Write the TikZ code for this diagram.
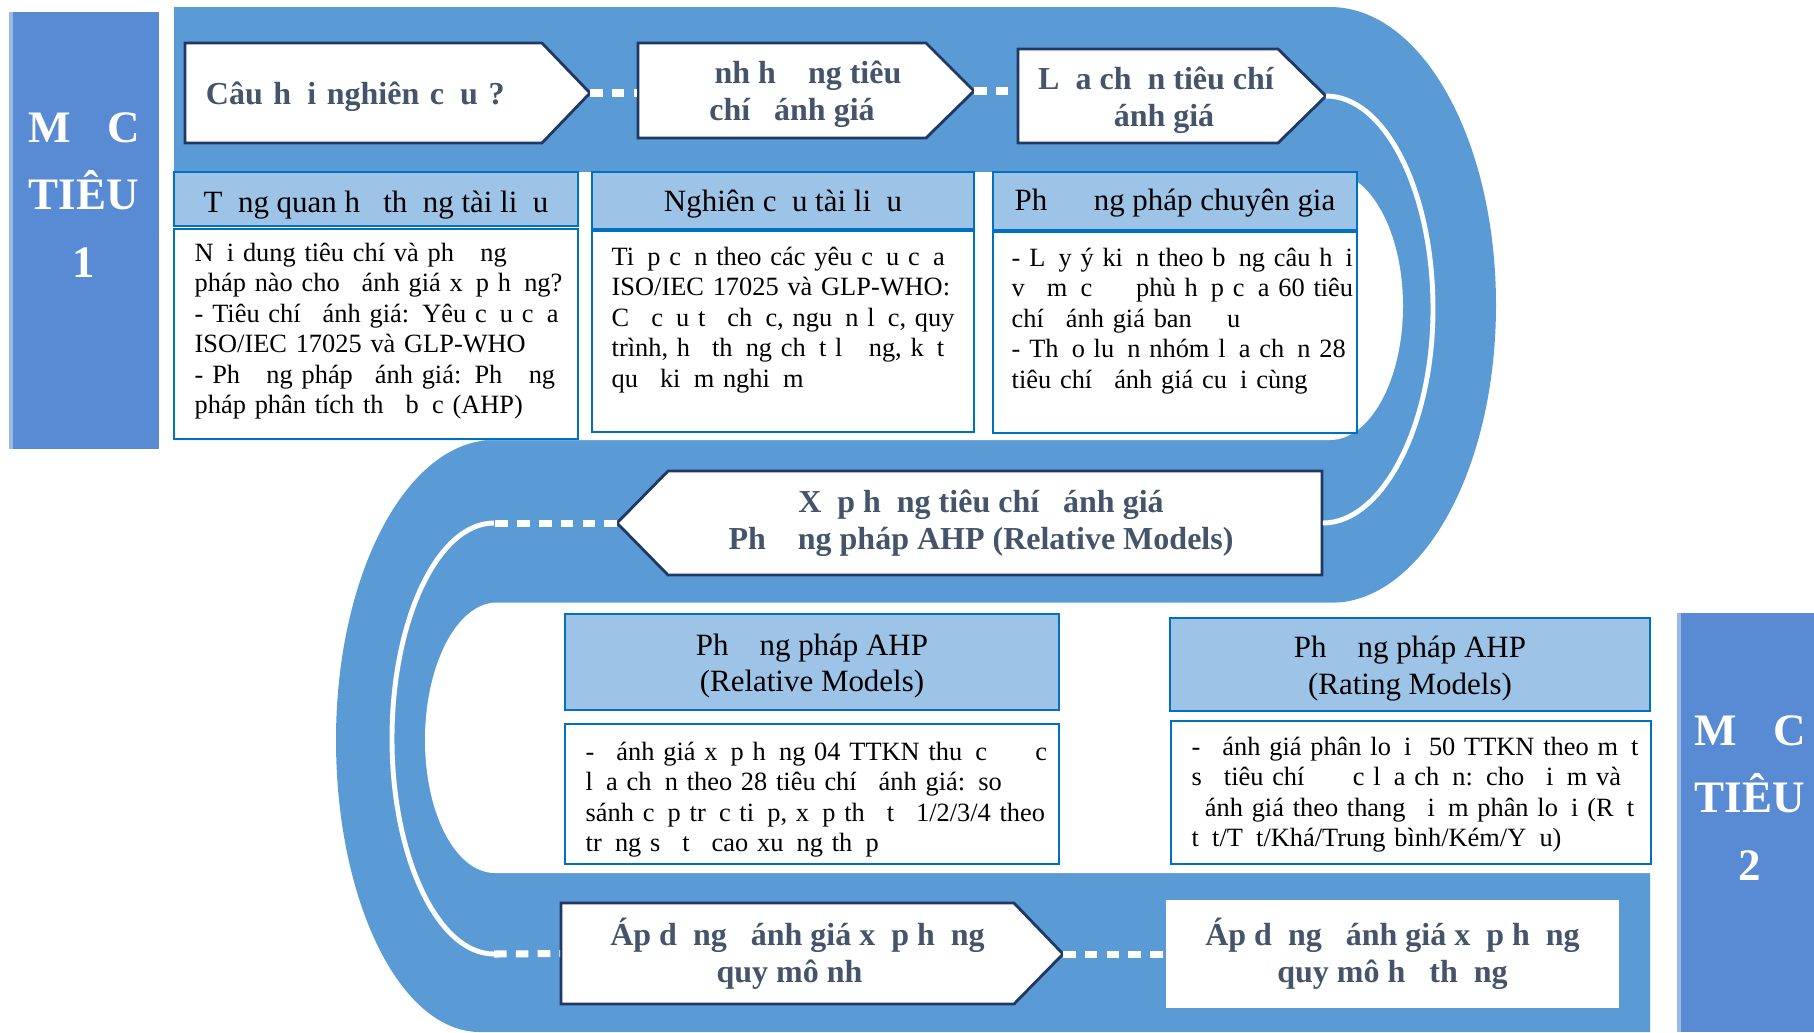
\documentclass[tikz,border=0pt]{standalone}
\usepackage{fontspec}
\setmainfont{Liberation Serif}
\usepackage{xcolor}
\usetikzlibrary{calc, positioning}
\definecolor{bandblue}{HTML}{5B9BD5}
\definecolor{barblue}{HTML}{588BD4}
\definecolor{headfill}{HTML}{9DC3E6}
\definecolor{edgeblue}{HTML}{0070C0}
\definecolor{navyline}{HTML}{203864}
\definecolor{slatetext}{HTML}{44546A}
% gap left by a glyph the font could not print
\newcommand{\lost}{\hspace*{0.5em}}
\tikzset{
  arrowbox/.style  = {draw=navyline, line width=0.8pt, fill=white},
  arrowtext/.style = {font=\fontsize{9.1}{10.5}\selectfont\bfseries, text=slatetext, align=center, inner sep=0pt},
  headbox/.style   = {draw=edgeblue, line width=0.6pt, fill=headfill},
  headtext/.style  = {font=\fontsize{8.8}{10.5}\selectfont, align=center, inner sep=0pt},
  bodybox/.style   = {draw=edgeblue, line width=0.6pt, fill=white},
  bodytext/.style  = {font=\fontsize{7.5}{8.68}\selectfont, align=left, anchor=base west, inner sep=0pt},
  goaltext/.style  = {font=\fontsize{12.8}{19.3}\selectfont\bfseries, text=white, align=center},
  dashlink/.style  = {white, line width=2pt, dash pattern=on 3.6pt off 2.6pt},
  uturn/.style     = {white, line width=1.4pt}
}

\begin{document}
\begin{tikzpicture}[x=0.01cm, y=-0.01cm]
\useasboundingbox (0,0) rectangle (1814,1032);

% Blue band
\fill[bandblue] (174,7) -- (1330,7)
  .. controls (1422,7) and (1496,140) .. (1496,305)
  .. controls (1496,470) and (1422,603) .. (1330,603)
  -- (1650,603) -- (1650,1032) -- (480,1032)
  .. controls (400,1032) and (336,901) .. (336,740)
  .. controls (336,574) and (407,440) .. (494,440)
  -- (174,440) -- cycle;

% Inside of the two bends
\fill[white] (160,172) -- (1330,172)
  .. controls (1370,172) and (1403,232) .. (1403,306)
  .. controls (1403,380) and (1370,440) .. (1330,440)
  -- (160,440) -- cycle;
\fill[white] (1660,602.5) -- (497,602.5)
  .. controls (457,602.5) and (425,665) .. (425,740)
  .. controls (425,814) and (456,873) .. (495,873)
  -- (1660,873) -- cycle;

% Muc tieu 1
\fill[barblue] (9,12) rectangle (159,449);
\fill[barblue!60!white] (9,12) rectangle (13,449);
\node[goaltext] (goalOne) at (84,195) {M\hspace{0.8em}C\\TIÊU\\1};

% Muc tieu 2
\fill[barblue] (1677,613) rectangle (1814,1032);
\fill[barblue!60!white] (1677,613) rectangle (1681,1032);
\node[goaltext] (goalTwo) at (1750,798) {M\hspace{0.8em}C\\TIÊU\\2};

% Top row
\draw[arrowbox] (185,43) -- (542,43) -- (590,93) coordinate (quesTip) -- (542,143) -- (185,143) -- cycle;
\node[arrowtext, align=left, text width=3.15cm, inner xsep=0.21cm, minimum height=1cm] (ques) at (363.5,97) {Câu h\lost i nghiên c\lost u ?};

\draw[arrowbox] (638,43) -- (926,43) -- (974,91) coordinate (orientTip) -- (926,138) -- (638,138) -- cycle;
\node[arrowtext, minimum width=3.08cm, minimum height=0.95cm] (orient) at (792,94.5) {\lost\lost nh h\lost\lost ng tiêu\\chí \lost ánh giá};

\draw[arrowbox] (1018,49) -- (1278,49) -- (1326,96) coordinate (selectTip) -- (1278,143) -- (1018,143) -- cycle;
\node[arrowtext, minimum width=2.76cm, minimum height=0.94cm] (select) at (1156,100) {L\lost a ch\lost n tiêu chí\\\lost ánh giá};

\draw[dashlink] (quesTip) -- (quesTip -| orient.west);
\draw[dashlink] (orientTip) -- (orientTip -| select.west);

% Tong quan he thong tai lieu
\draw[headbox] (174,172) rectangle (578,226);
\node[headtext] (litHead) at (376,205) {T\lost ng quan h\lost\ th\lost ng tài li\lost u};
\draw[bodybox] (174,229) rectangle (578,439);
\node[bodytext, text width=4cm] (litText) at (194,261) {N\lost i dung tiêu chí và ph\lost\lost ng\\
pháp nào cho \lost ánh giá x\lost p h\lost ng?\\
- Tiêu chí \lost ánh giá: Yêu c\lost u c\lost a\\
ISO/IEC 17025 và GLP-WHO\\
- Ph\lost\lost ng pháp \lost ánh giá: Ph\lost\lost ng\\
pháp phân tích th\lost\ b\lost c (AHP)};

% Nghien cuu tai lieu
\draw[headbox] (592,172) rectangle (974,229);
\node[headtext] (docHead) at (783,204.5) {Nghiên c\lost u tài li\lost u};
\draw[bodybox] (592,231) rectangle (974,432);
\node[bodytext, text width=4cm] (docText) at (611,265) {Ti\lost p c\lost n theo các yêu c\lost u c\lost a\\
ISO/IEC 17025 và GLP-WHO:\\
C\lost\ c\lost u t\lost\ ch\lost c, ngu\lost n l\lost c, quy\\
trình, h\lost\ th\lost ng ch\lost t l\lost\lost ng, k\lost t\\
qu\lost\ ki\lost m nghi\lost m};

% Phuong phap chuyen gia
\draw[headbox] (993,172) rectangle (1357,230);
\node[headtext] (expHead) at (1175,203) {Ph\lost\lost\lost ng pháp chuyên gia};
\draw[bodybox] (993,232) rectangle (1357,433);
\node[bodytext, text width=4cm] (expText) at (1011,266) {- L\lost y ý ki\lost n theo b\lost ng câu h\lost i\\
v\lost\ m\lost c \lost\lost\ phù h\lost p c\lost a 60 tiêu\\
chí \lost ánh giá ban \lost\lost u\\
- Th\lost o lu\lost n nhóm l\lost a ch\lost n 28\\
tiêu chí \lost ánh giá cu\lost i cùng};

% Xep hang tieu chi
\draw[arrowbox] (617,523) coordinate (rankTip) -- (668,471) -- (1322,471) -- (1322,575) -- (668,575) -- cycle;
\node[arrowtext, minimum width=6.82cm, minimum height=1.04cm] (rank) at (981,523) {X\lost p h\lost ng tiêu chí \lost ánh giá\\Ph\lost\lost ng pháp AHP (Relative Models)};

\draw[uturn] (selectTip) .. controls +(59,0) and +(0,-118) .. (1433,309) .. controls +(0,118) and +(59,0) .. (rank.east);

% AHP Relative Models
\draw[headbox] (565,614) rectangle (1059,710);
\node[headtext] (relHead) at (812,666) {Ph\lost\lost ng pháp AHP\\(Relative Models)};
\draw[bodybox] (565,724) rectangle (1059,864);
\node[bodytext, text width=5cm] (relText) at (585,760) {- \lost ánh giá x\lost p h\lost ng 04 TTKN thu\lost c \lost\lost\lost c\\
l\lost a ch\lost n theo 28 tiêu chí \lost ánh giá: so\\
sánh c\lost p tr\lost c ti\lost p, x\lost p th\lost\ t\lost\ 1/2/3/4 theo\\
tr\lost ng s\lost\ t\lost\ cao xu\lost ng th\lost p};

% AHP Rating Models
\draw[headbox] (1170,618) rectangle (1650,711);
\node[headtext] (rateHead) at (1410,668.5) {Ph\lost\lost ng pháp AHP\\(Rating Models)};
\draw[bodybox] (1171,721) rectangle (1651,864);
\node[bodytext, text width=4.41cm] (rateText) at (1191,755) {\makebox[\linewidth][s]{- \lost ánh giá phân lo\lost i\ \ 50 TTKN theo m\lost t}\\
\makebox[\linewidth][s]{s\lost\ tiêu chí \lost\lost\lost c l\lost a ch\lost n: cho \lost i\lost m và}\\
\makebox[\linewidth][s]{\lost ánh giá theo thang \lost i\lost m phân lo\lost i (R\lost t}\\
t\lost t/T\lost t/Khá/Trung bình/Kém/Y\lost u)};

% Bottom row
\coordinate (bendTop) at (494,523);
\coordinate (bendBottom) at (494,954);
\draw[arrowbox] (561,903) -- (1014,903) -- (1063,954) coordinate (smallTip) -- (1014,1004) -- (561,1004) -- cycle;
\node[arrowtext, minimum width=4.73cm, minimum height=1.01cm] (small) at (797.5,953.5) {Áp d\lost ng \lost ánh giá x\lost p h\lost ng\\quy mô nh\lost};
\node[arrowtext, fill=white, minimum width=4.53cm, minimum height=1.08cm] (system) at (1392.5,954) {Áp d\lost ng \lost ánh giá x\lost p h\lost ng\\quy mô h\lost\ th\lost ng};

\draw[dashlink] (rankTip) -- (bendTop);
\draw[uturn] (bendTop) .. controls +(-56,0) and +(0,-119) .. (392,738.5) .. controls +(0,119) and +(-56,0) .. (bendBottom);
\draw[dashlink] (bendBottom) -- (small.west);
\draw[dashlink] (smallTip) -- (system.west);

\end{tikzpicture}
\end{document}
